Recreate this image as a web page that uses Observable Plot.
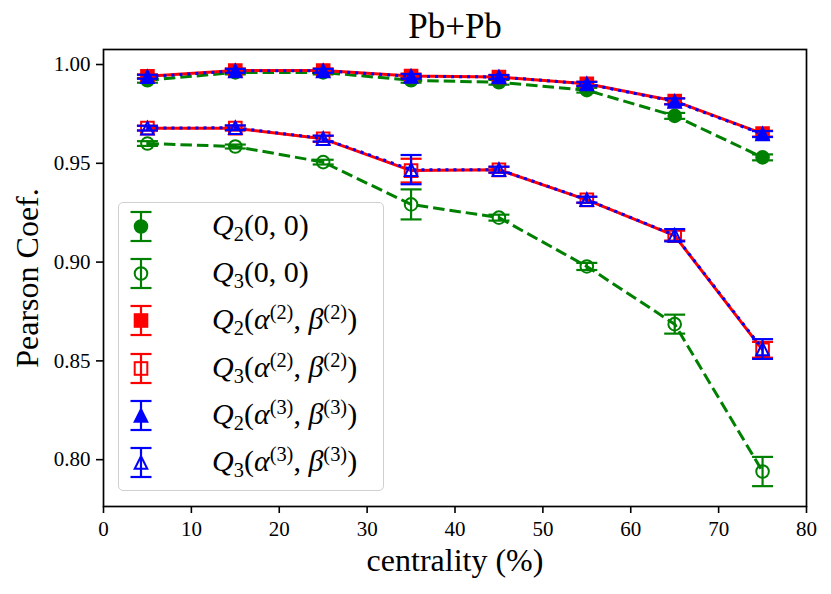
<!DOCTYPE html>
<html>
<head>
<meta charset="utf-8">
<script src="https://cdn.jsdelivr.net/npm/d3@7"></script>
<script src="https://cdn.jsdelivr.net/npm/@observablehq/plot@0.6"></script>
<style>
  html, body { margin: 0; padding: 0; background: #fff; }
  #wrap { position: relative; width: 831px; height: 594px; }
  #wrap svg { position: absolute; left: 0; top: 0; }
  #legend {
    position: absolute; left: 118px; top: 202px; width: 264px; height: 287px;
    border: 1.5px solid #d0d0d0; border-radius: 5px; background: rgba(255,255,255,0.8);
    font-family: "Liberation Serif", serif; font-size: 30px; color: #000;
  }
  .row { position: absolute; left: 0; height: 47px; width: 100%; }
  .row svg { position: absolute; left: 19px; top: 0; }
  .row .lbl { position: absolute; left: 93px; top: 7px; line-height: 1; white-space: nowrap; }
  .lbl i { font-style: italic; }
  .lbl sub { font-size: 0.68em; vertical-align: -0.28em; line-height: 0; }
  .lbl sup { font-size: 0.68em; vertical-align: 0.5em; line-height: 0; }
</style>
</head>
<body>
<div id="wrap"><div id="legend"></div></div>
<script>
// ---- data ----
const centrality = [5, 15, 25, 35, 45, 55, 65, 75];

const q2_00     = [0.992, 0.996, 0.996, 0.992, 0.991, 0.987, 0.974, 0.953];
const q2_00_err = [0.0012, 0.0010, 0.0010, 0.0012, 0.0012, 0.0012, 0.0015, 0.0015];
const q3_00     = [0.960, 0.9585, 0.9506, 0.9292, 0.9225, 0.8978, 0.8686, 0.7940];
const q3_00_err = [0.0012, 0.0010, 0.0012, 0.0076, 0.0015, 0.0018, 0.0048, 0.0074];

const q2_a2     = [0.9940, 0.9970, 0.9970, 0.9942, 0.9937, 0.9903, 0.9815, 0.9650];
const q2_a2_err = [0.0010, 0.0010, 0.0010, 0.0012, 0.0010, 0.0010, 0.0015, 0.0015];
const q3_a2     = [0.9678, 0.9678, 0.9624, 0.9463, 0.9467, 0.9315, 0.9134, 0.8556];
const q3_a2_err = [0.0012, 0.0012, 0.0015, 0.0060, 0.0015, 0.0015, 0.0025, 0.0040];

const q2_a3     = [0.9938, 0.9968, 0.9968, 0.9940, 0.9937, 0.9902, 0.9813, 0.9648];
const q2_a3_err = [0.0010, 0.0010, 0.0010, 0.0012, 0.0010, 0.0010, 0.0015, 0.0015];
const q3_a3     = [0.9678, 0.9680, 0.9625, 0.9468, 0.9468, 0.9316, 0.9136, 0.8560];
const q3_a3_err = [0.0012, 0.0012, 0.0015, 0.0074, 0.0015, 0.0015, 0.0031, 0.0050];

const yTicks = [0.80, 0.85, 0.90, 0.95, 1.00];
const xTicks = [0, 10, 20, 30, 40, 50, 60, 70, 80];

const labels = [
  "<i>Q</i><sub>2</sub>(0, 0)",
  "<i>Q</i><sub>3</sub>(0, 0)",
  "<i>Q</i><sub>2</sub>(<i>α</i><sup>(2)</sup>, <i>β</i><sup>(2)</sup>)",
  "<i>Q</i><sub>3</sub>(<i>α</i><sup>(2)</sup>, <i>β</i><sup>(2)</sup>)",
  "<i>Q</i><sub>2</sub>(<i>α</i><sup>(3)</sup>, <i>β</i><sup>(3)</sup>)",
  "<i>Q</i><sub>3</sub>(<i>α</i><sup>(3)</sup>, <i>β</i><sup>(3)</sup>)"
];

// ---- symbols (matplotlib-like) ----
const sq = {draw(ctx, size) { const a = Math.sqrt(size / Math.PI); ctx.rect(-a, -a, 2 * a, 2 * a); }};
const tri = {draw(ctx, size) { const a = Math.sqrt(size / Math.PI); ctx.moveTo(0, -a); ctx.lineTo(-a, a); ctx.lineTo(a, a); ctx.closePath(); }};
const cap = {draw(ctx, size) { const a = Math.sqrt(size / Math.PI); ctx.moveTo(-a, 0); ctx.lineTo(a, 0); }};

const series = [
  {y: q2_00, e: q2_00_err, color: "#008000", symbol: "circle", filled: true,  dash: "11.5,5", lw: 3},
  {y: q3_00, e: q3_00_err, color: "#008000", symbol: "circle", filled: false, dash: "11.5,5", lw: 3},
  {y: q2_a2, e: q2_a2_err, color: "#ff0000", symbol: sq,       filled: true,  dash: null,     lw: 3},
  {y: q3_a2, e: q3_a2_err, color: "#ff0000", symbol: sq,       filled: false, dash: null,     lw: 3},
  {y: q2_a3, e: q2_a3_err, color: "#0000ff", symbol: tri,      filled: true,  dash: "3,5",    lw: 3},
  {y: q3_a3, e: q3_a3_err, color: "#0000ff", symbol: tri,      filled: false, dash: "3,5",    lw: 3}
];

const serif = "Liberation Serif, serif";
const marks = [];
series.forEach((s, i) => {
  const rows = centrality.map((x, j) => ({x, y: s.y[j], lo: s.y[j] - s.e[j], hi: s.y[j] + s.e[j]}));
  marks.push(Plot.line(rows, {x: "x", y: "y", stroke: s.color, strokeWidth: s.lw, strokeDasharray: s.dash, strokeLinecap: "butt"}));
  marks.push(Plot.ruleX(rows, {x: "x", y1: "lo", y2: "hi", stroke: s.color, strokeWidth: 2.2}));
  marks.push(Plot.dot(rows, {x: "x", y: "lo", symbol: cap, r: 10.5, stroke: s.color, strokeWidth: 2.2}));
  marks.push(Plot.dot(rows, {x: "x", y: "hi", symbol: cap, r: 10.5, stroke: s.color, strokeWidth: 2.2}));
  marks.push(Plot.dot(rows, {x: "x", y: "y", symbol: s.symbol, r: 6.3,
    fill: s.filled ? s.color : "none", stroke: s.color, strokeWidth: 2}));
});

const chart = Plot.plot({
  width: 831, height: 594,
  marginLeft: 103, marginRight: 25, marginTop: 49, marginBottom: 88,
  style: {fontFamily: serif, background: "transparent", color: "#000"},
  x: {domain: [0, 80]},
  y: {domain: [0.7763, 1.0076]},
  marks: [
    ...marks,
    Plot.frame({stroke: "#000", strokeWidth: 1.7}),
    Plot.axisY({ticks: yTicks, tickFormat: d3.format(".2f"), tickSize: 7, tickPadding: 6, fontSize: 21, label: null, strokeWidth: 1.6}),
    Plot.axisX({ticks: xTicks, tickFormat: d3.format("d"), tickSize: 7, tickPadding: 8, fontSize: 21, label: null, strokeWidth: 1.6}),
    Plot.text(["Pb+Pb"], {frameAnchor: "top", lineAnchor: "bottom", dy: -12, fontSize: 35, fontFamily: serif}),
    Plot.text(["centrality (%)"], {frameAnchor: "bottom", lineAnchor: "bottom", dy: 64, fontSize: 32, fontFamily: serif}),
    Plot.text(["Pearson Coef."], {frameAnchor: "left", textAnchor: "middle", lineAnchor: "bottom", rotate: -90, dx: -66, fontSize: 32, fontFamily: serif})
  ]
});
document.getElementById("wrap").prepend(chart);

// ---- legend ----
const legend = document.getElementById("legend");
const symPath = (s) => {
  const a = 6.3;
  if (s.symbol === "circle") return `<circle cx="22" cy="23.5" r="${a}"/>`;
  if (s.symbol === sq) return `<rect x="${22 - a}" y="${23.5 - a}" width="${2 * a}" height="${2 * a}"/>`;
  return `<path d="M22,${23.5 - a}L${22 - a},${23.5 + a}L${22 + a},${23.5 + a}Z"/>`;
};
series.forEach((s, i) => {
  const row = document.createElement("div");
  row.className = "row";
  row.style.top = (i * 47.2) + "px";
  row.innerHTML = `<svg width="44" height="47" viewBox="0 0 44 47">
      <g stroke="${s.color}" stroke-width="2.2" fill="none">
        <line x1="22" x2="22" y1="9" y2="38"/>
        <line x1="11.5" x2="32.5" y1="9" y2="9"/>
        <line x1="11.5" x2="32.5" y1="38" y2="38"/>
      </g>
      <g stroke="${s.color}" stroke-width="2" fill="${s.filled ? s.color : "none"}">${symPath(s)}</g>
    </svg><span class="lbl">${labels[i]}</span>`;
  legend.appendChild(row);
});
</script>
</body>
</html>
